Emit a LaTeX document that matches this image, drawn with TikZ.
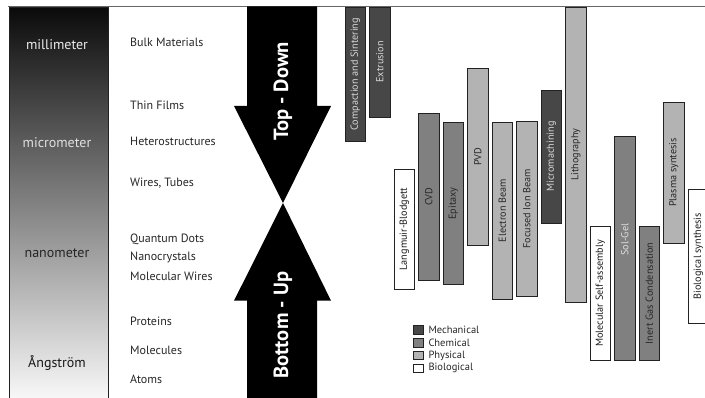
\documentclass[tikz,border=0pt]{standalone}
\usepackage{fontspec}
\setmainfont{PT Sans}
\begin{document}
\begin{tikzpicture}[x=1pt,y=-1pt]
\definecolor{mechcol}{HTML}{474747}
\definecolor{chemcol}{HTML}{808080}
\definecolor{physcol}{HTML}{B3B3B3}
\definecolor{biocol}{HTML}{FFFFFF}
\definecolor{edgecol}{HTML}{222222}
\tikzset{
  bar/.style={draw=edgecol, line width=0.9pt, rotate=90, inner sep=0pt, minimum height=20.5pt, font=\fontsize{10.2}{11}\selectfont},
  mech/.style={fill=mechcol, text=black!15},
  chem/.style={fill=chemcol, text=black!85},
  chemlt/.style={fill=chemcol, text=black!12},
  phys/.style={fill=physcol, text=black!85},
  bio/.style={fill=biocol, text=black!90},
  lbl/.style={anchor=west, inner sep=0pt, text=black!85, font=\fontsize{12}{14}\selectfont},
  scaletxt/.style={inner sep=0pt, font=\fontsize{14}{16}\selectfont},
  legsq/.style={draw=edgecol, line width=0.7pt, minimum width=9.5pt, minimum height=8.5pt, inner sep=0pt},
  legtxt/.style={anchor=west, inner sep=0pt, text=black!85, font=\fontsize{10.5}{12}\selectfont},
  arrowtxt/.style={rotate=90, text=white, inner sep=0pt, font=\fontsize{20.5}{22}\selectfont\bfseries},
}
\useasboundingbox (0,0) rectangle (705,398);
% left scale bar
\shade[top color=black!96, bottom color=black!3] (9,7) rectangle (108,398);
\draw[edgecol, line width=0.8pt] (9,398) -- (9,7) -- (108,7) -- (108,398);
\node[scaletxt, text=white!92!black] (mm) at (57,45) {millimeter};
\node[scaletxt, text=black!12] (um) at (57,143) {micrometer};
\node[scaletxt, text=black!85] (nm) at (57,253) {nanometer};
\node[scaletxt, text=black!90] (aa) at (57,363) {Ångström};
% top line
\draw[black!60, line width=0.9pt] (8,6.5) -- (705,6.5);
% middle labels
\node[lbl] (l1) at (130,42) {Bulk Materials};
\node[lbl] (l2) at (130,105) {Thin Films};
\node[lbl] (l3) at (130,141) {Heterostructures};
\node[lbl] (l4) at (130,183) {Wires, Tubes};
\node[lbl] (l5) at (130,239.5) {Quantum Dots};
\node[lbl] (l6) at (130,257.5) {Nanocrystals};
\node[lbl] (l7) at (130,276) {Molecular Wires};
\node[lbl] (l8) at (130,321.5) {Proteins};
\node[lbl] (l9) at (130,350) {Molecules};
\node[lbl] (l10) at (130,379) {Atoms};
% arrows
\fill[black] (247,6.5) -- (317,6.5) -- (317,106) -- (331,106) -- (283,203) -- (234,106) -- (247,106) -- cycle;
\fill[black] (283,203) -- (331,300.7) -- (317,300.7) -- (317,398) -- (247,398) -- (247,300.7) -- (234,300.7) -- cycle;
\node[arrowtxt] (td) at (283,91.5) {Top - Down};
\node[arrowtxt] (bu) at (283,325) {Bottom - Up};
% process bars
\node[bar, mech, minimum width=134.7pt] (cs) at (355.25,74.35) {Compaction and Sintering};
\node[bar, mech, minimum width=110pt] (ex) at (379.75,62) {Extrusion};
\node[bar, bio, minimum width=120pt] (lb) at (404.25,229) {Langmuir-Blodgett};
\node[bar, chem, minimum width=166.3pt] (cvd) at (428.75,196.85) {CVD};
\node[bar, chem, minimum width=161.6pt] (epi) at (453.25,203.5) {Epitaxy};
\node[bar, phys, minimum width=176.3pt] (pvd) at (477.75,156.85) {PVD};
\node[bar, phys, minimum width=177pt] (eb) at (502.25,210.5) {Electron Beam};
\node[bar, phys, minimum width=175.7pt] (fib) at (526.75,208.85) {Focused Ion Beam};
\node[bar, mech, minimum width=133pt] (mmc) at (551.25,156.5) {Micromachining};
\node[bar, phys, minimum width=295.3pt] (lit) at (575.75,154.65) {Lithography};
\node[bar, bio, minimum width=134.7pt] (msa) at (600.25,293.35) {Molecular Self-assembly};
\node[bar, chemlt, minimum width=224pt] (sg) at (624.75,248.7) {\hspace*{18pt}Sol-Gel};
\node[bar, chem, minimum width=134.7pt] (igc) at (649.25,293.35) {Inert Gas Condensation};
\node[bar, phys, minimum width=141.3pt] (ps) at (673.75,172.65) {Plasma syntesis};
\node[bar, bio, minimum width=134pt] (bs) at (698.25,256.3) {Biological synthesis};
% legend
\node[legsq, fill=mechcol] (sq1) at (418.3,330) {};
\node[legsq, fill=chemcol] (sq2) at (418.3,343) {};
\node[legsq, fill=physcol] (sq3) at (418.3,355.5) {};
\node[legsq, fill=biocol] (sq4) at (418.3,368.3) {};
\node[legtxt] (t1) at (428.3,330) {Mechanical};
\node[legtxt] (t2) at (428.3,343) {Chemical};
\node[legtxt] (t3) at (428.3,355.5) {Physical};
\node[legtxt] (t4) at (428.3,368.3) {Biological};
\end{tikzpicture}
\end{document}
